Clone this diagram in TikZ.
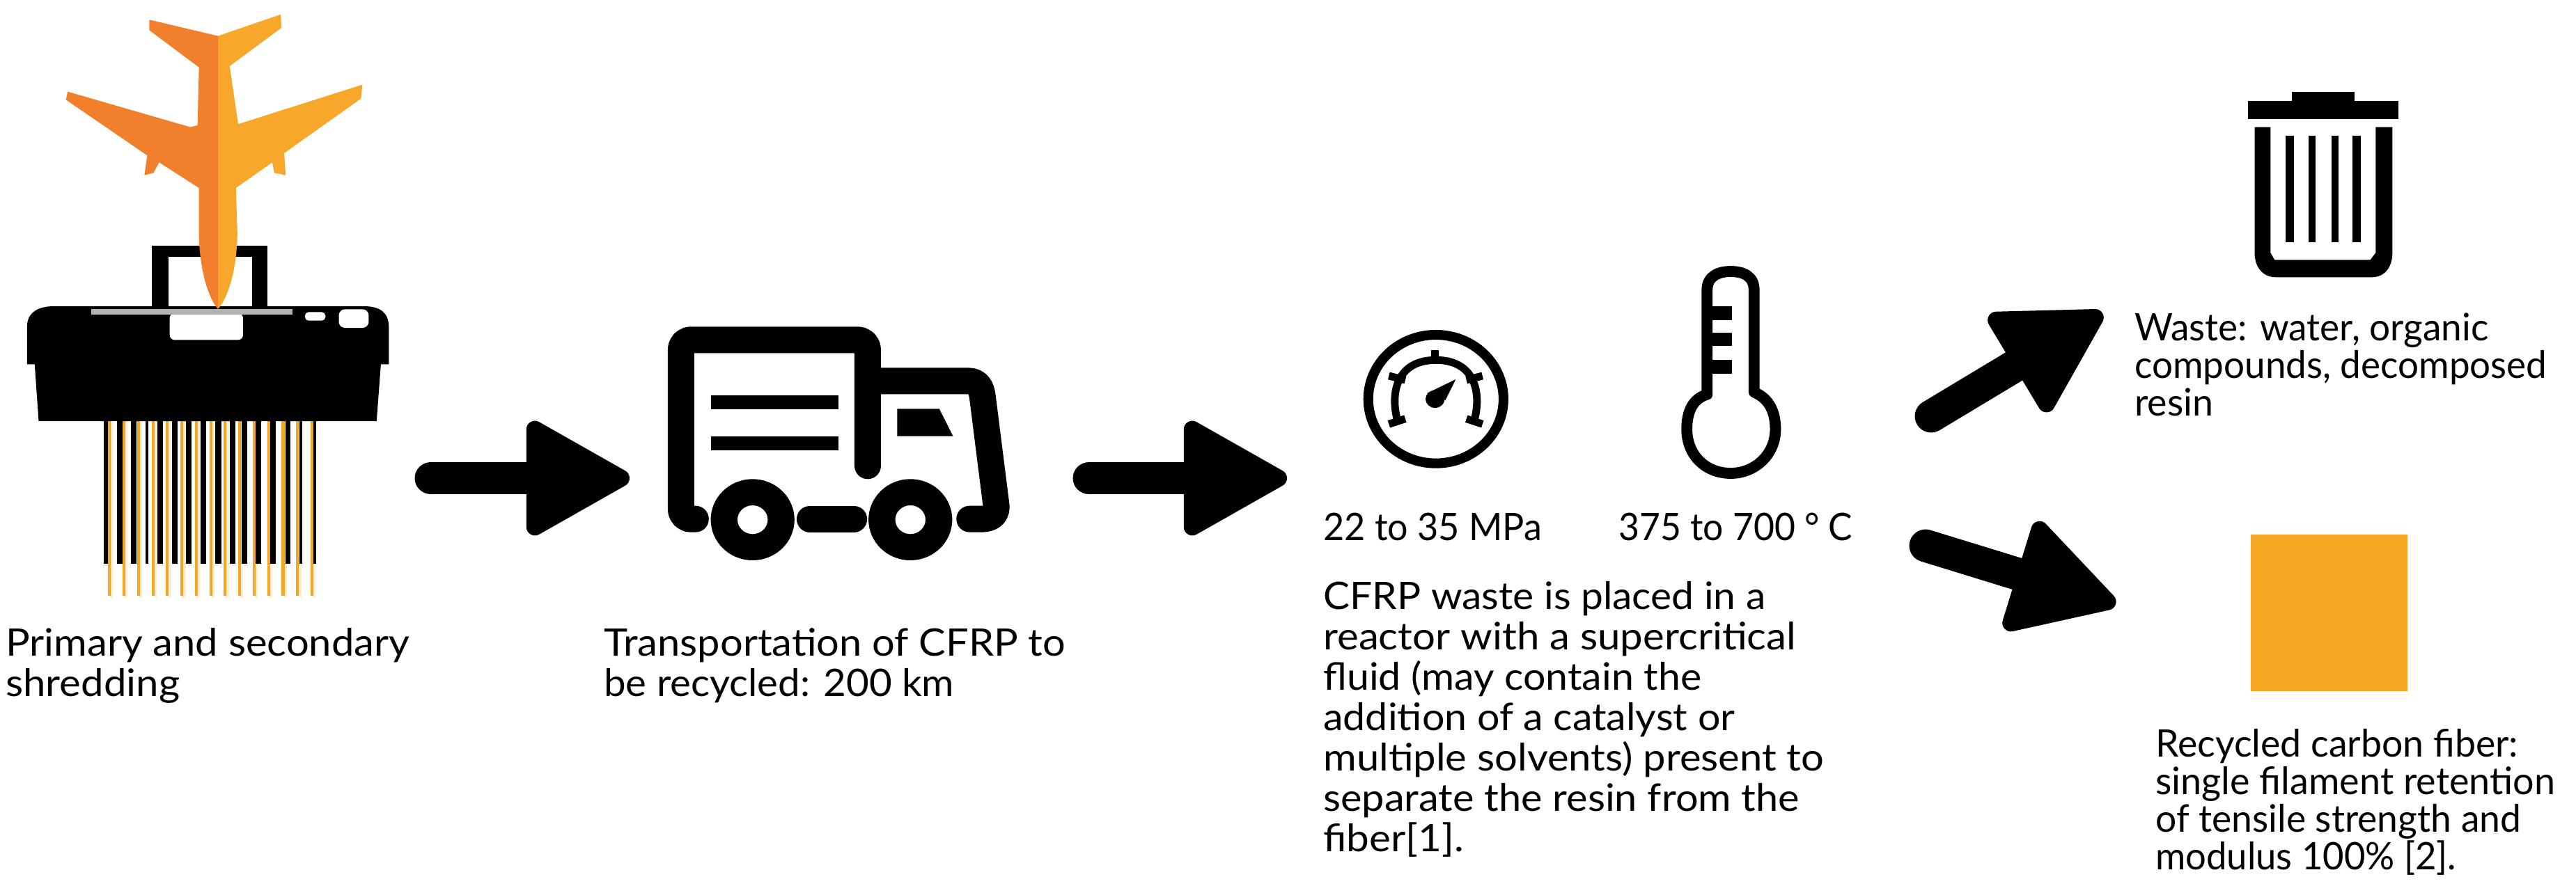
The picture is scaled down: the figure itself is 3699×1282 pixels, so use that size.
\documentclass[tikz,border=0pt]{standalone}
\usepackage{fontspec}
\usepackage{graphicx}
\setmainfont{Lato}
\usetikzlibrary{arrows.meta}
\definecolor{planedark}{HTML}{F27F2B}
\definecolor{planelight}{HTML}{F9A72B}
\definecolor{fiber}{HTML}{F5A623}
% one text line, set to a given width in reference pixels
\newdimen\pxlen \pxlen=0.569pt
\newcommand{\fitline}[2]{\resizebox{#1\pxlen}{\height}{#2}}
\tikzset{
  x=0.02cm,y=-0.02cm,
  zoneA/.style={shift={(0,0)},x=0.02cm/2.45,y=-0.02cm/3},
  zoneB/.style={shift={(0,400)},x=0.02cm/2.45,y=-0.02cm/3},
  zoneC/.style={shift={(900,420)},x=0.02cm/2.529,y=-0.02cm/3},
  zoneD/.style={shift={(1900,360)},x=0.02cm/1.823,y=-0.02cm/3},
  zoneE/.style={shift={(3100,100)},x=0.02cm/2.618,y=-0.02cm/3},
  label/.style={anchor=north west,align=left,inner sep=0pt,font=\fontsize{31pt}{33pt}\selectfont,text=black},
  labeltight/.style={label,font=\fontsize{31pt}{30.8pt}\selectfont},
  fatarrow/.style={line width=26.7pt,line cap=round,-{Triangle[length=92pt,width=100pt,line width=14pt,round]}},
  truckline/.style={line width=21.6pt,line cap=round,line join=round},
}
\begin{document}
\begin{tikzpicture}
\useasboundingbox (0,0) rectangle (3699,1282);
% paper frame
\begin{scope}[zoneA]
\fill[black] (533,1058) rectangle (942,1330);
\fill[white] (592,1108) rectangle (887,1330);
\end{scope}
% shredder
\begin{scope}[zoneB]
\foreach \c in {385,436,487,538,589,640,691,742,792,843,894,946,996,1047,1098}{
  \fill[fiber!20] ({\c+3},615) rectangle ({\c+13},1378);
}
\foreach \l/\r in {365/380,412/430,461/480,512/522,553/573,604/625,655/675,705/725,757/778,808/828,850/870,900/920,950/970,1005/1022,1053/1063,1095/1113}{
  \fill[black] (\l,600) rectangle (\r,1230);
}
\foreach \c in {385,436,487,538,589,640,691,742,792,843,894,946,996,1047,1098}{
  \fill[fiber] ({\c-5},615) rectangle ({\c+5},1367);
}
\fill[black] (95,370) -- (95,210) .. controls (95,150) and (130,120) .. (190,120) -- (1280,120)
  .. controls (1340,120) and (1368,150) .. (1368,210) -- (1368,370) -- (1340,370) -- (1325,615)
  -- (136,615) -- (122,370) -- cycle;
\fill[white,rounded corners=4pt] (597,150) rectangle (855,265);
\fill[black!30] (320,133) rectangle (1028,157);
\fill[white,rounded corners=3pt] (1073,145) rectangle (1145,182);
\fill[white,rounded corners=5pt] (1192,133) rectangle (1297,213);
\end{scope}
% plane
\begin{scope}[zoneA]
\fill[planelight] (767,155) -- (988,62) -- (990,120) -- (808,285) -- (838,535) -- (1275,365)
  -- (1270,425) -- (1000,660) -- (1005,755) -- (965,745) -- (958,700) -- (830,810) -- (835,1000)
  .. controls (835,1150) and (805,1280) .. (767,1332) -- cycle;
\fill[planedark] (767,155) -- (525,85) -- (525,130) -- (700,290) -- (695,540) -- (670,548)
  -- (238,395) -- (232,430) -- (518,670) -- (508,755) -- (540,745) -- (560,700) -- (700,810)
  -- (700,1000) .. controls (700,1150) and (730,1280) .. (767,1332) -- cycle;
\end{scope}
% truck
\begin{scope}[zoneC]
\draw[truckline,rounded corners=8pt] (250,977) -- (197,977) -- (197,205) -- (875,205) -- (875,748);
\draw[truckline] (875,382) -- (1240,382) .. controls (1275,382) and (1288,410) .. (1292,450)
  -- (1342,920) .. controls (1345,960) and (1320,977) .. (1290,977) -- (1245,977);
\draw[truckline] (665,977) -- (825,977);
\foreach \w in {457,1030}{
  \fill[black,even odd rule] (\w,980) ellipse [x radius=152,y radius=175] (\w,980) ellipse [x radius=55,y radius=62];
}
\fill[black] (305,445) rectangle (770,505);
\fill[black] (305,622) rectangle (770,682);
\fill[black] (982,502) -- (1135,502) -- (1185,620) -- (982,620) -- cycle;
\end{scope}
% gauge and thermometer
\begin{scope}[zoneD]
\draw[line width=8pt] (295,640) ellipse [x radius=177,y radius=277];
\draw[line width=6.2pt] (195,735) .. controls (175,620) and (190,472) .. (295,472)
  .. controls (400,472) and (415,620) .. (395,735);
\draw[line width=6.2pt] (293,430) -- (293,472);
\draw[line width=6.2pt] (172,540) -- (215,558);
\draw[line width=6.2pt] (417,540) -- (375,558);
\draw[line width=6.2pt] (172,748) -- (215,725);
\draw[line width=6.2pt] (417,748) -- (375,725);
\fill[black] (293,640) ellipse [x radius=25,y radius=38];
\fill[black] (347,555) -- (272,615) -- (320,645) -- cycle;
\draw[line width=9pt,line join=round] (1005,620) -- (1005,170) .. controls (1005,110) and (1035,90) .. (1067,90)
  .. controls (1100,90) and (1128,110) .. (1128,170) -- (1128,610)
  .. controls (1170,640) and (1184,700) .. (1184,770) .. controls (1184,880) and (1130,960) .. (1067,960)
  .. controls (1000,960) and (952,880) .. (952,770) .. controls (952,700) and (965,640) .. (1005,620) -- cycle;
\fill[black] (1010,240) rectangle (1070,300);
\fill[black] (1010,355) rectangle (1070,412);
\fill[black] (1010,470) rectangle (1070,530);
\end{scope}
% trash
\begin{scope}[zoneE]
\fill[black] (335,135) rectangle (900,212);
\fill[black] (500,97) rectangle (735,140);
\fill[black] (360,248) -- (360,790) .. controls (360,850) and (390,895) .. (440,895) -- (800,895)
  .. controls (850,895) and (878,850) .. (878,790) -- (878,248) -- (815,248) -- (815,790)
  -- (795,820) -- (435,820) -- (420,790) -- (420,248) -- cycle;
\fill[black] (477,285) rectangle (508,745);
\fill[black] (563,285) rectangle (590,745);
\fill[black] (650,285) rectangle (675,745);
\fill[black] (728,285) rectangle (758,745);
\end{scope}
% orange square
\fill[fiber] (3232,768) rectangle (3457,993);
% arrows
\coordinate (a1s) at (619,687); \coordinate (a1e) at (904,687);
\coordinate (a2s) at (1564,687); \coordinate (a2e) at (1848,687);
\coordinate (a3s) at (2773,598); \coordinate (a3e) at (3019,450);
\coordinate (a4s) at (2765,784); \coordinate (a4e) at (3038,868);
\draw[fatarrow] (a1s) -- (a1e);
\draw[fatarrow] (a2s) -- (a2e);
\draw[fatarrow] (a3s) -- (a3e);
\draw[fatarrow] (a4s) -- (a4e);
% labels
\node[label] (t1) at (8,902) {\fitline{580}{Primary and secondary}\\\fitline{250}{shredding}};
\node[label] (t2) at (867,902) {\fitline{663}{Transportation of CFRP to}\\\fitline{503}{be recycled: 200 km}};
\node[label] (t3) at (1900,737) {\fitline{314}{22 to 35 MPa}};
\node[label] (t4) at (2324,737) {\fitline{336}{375 to 700 ° C}};
\node[label] (t5) at (1900,835) {\fitline{635}{CFRP waste is placed in a}\\\fitline{679}{reactor with a supercritical}\\\fitline{543}{fluid (may contain the}\\\fitline{591}{addition of a catalyst or}\\\fitline{719}{multiple solvents) present to}\\\fitline{684}{separate the resin from the}\\\fitline{202}{fiber[1].}};
\node[labeltight] (t6) at (3065,449) {\fitline{508}{Waste: water, organic}\\\fitline{592}{compounds, decomposed}\\\fitline{113}{resin}};
\node[labeltight] (t7) at (3095,1047) {\fitline{521}{Recycled carbon fiber:}\\\fitline{574}{single filament retention}\\\fitline{525}{of tensile strength and}\\\fitline{432}{modulus 100\% [2].}};
\end{tikzpicture}
\end{document}
